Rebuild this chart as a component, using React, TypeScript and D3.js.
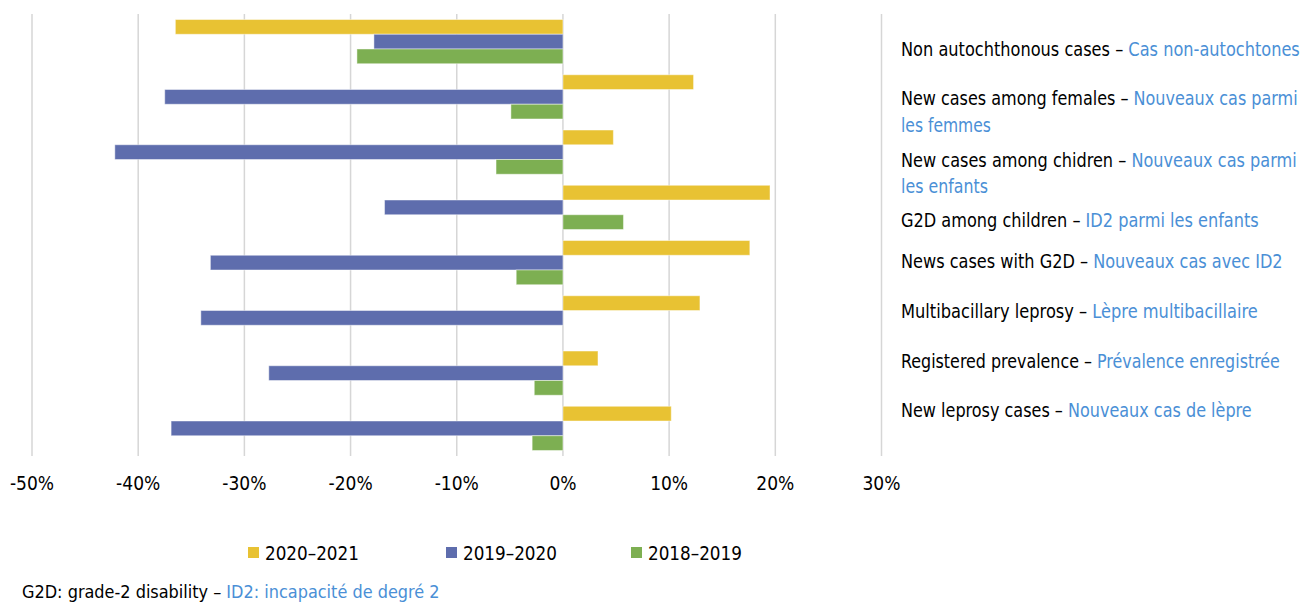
import React, { useLayoutEffect, useRef, useState } from "react";
import * as d3 from "d3";

const categories = [
  "Non autochthonous cases",
  "New cases among females",
  "New cases among chidren",
  "G2D among children",
  "News cases with G2D",
  "Multibacillary leprosy",
  "Registered prevalence",
  "New leprosy cases",
];

const seriesNames = ["2020–2021", "2019–2020", "2018–2019"];
const values2020_2021 = [-36.5, 12.3, 4.75, 19.5, 17.6, 12.9, 3.3, 10.2];
const values2019_2020 = [-17.8, -37.5, -42.2, -16.8, -33.2, -34.1, -27.7, -36.9];
const values2018_2019 = [-19.4, -4.9, -6.3, 5.7, -4.4, 0, -2.7, -2.9];
const xTicks = [-50, -40, -30, -20, -10, 0, 10, 20, 30];

// right-hand labels: English part, French part (lines)
const labelLines: { en: string; fr: string }[][] = [
  [{ en: "Non autochthonous cases – ", fr: "Cas non-autochtones" }],
  [{ en: "New cases among females – ", fr: "Nouveaux cas parmi" }, { en: "", fr: "les femmes" }],
  [{ en: "New cases among chidren – ", fr: "Nouveaux cas parmi" }, { en: "", fr: "les enfants" }],
  [{ en: "G2D among children – ", fr: "ID2 parmi les enfants" }],
  [{ en: "News cases with G2D – ", fr: "Nouveaux cas avec ID2" }],
  [{ en: "Multibacillary leprosy – ", fr: "Lèpre multibacillaire" }],
  [{ en: "Registered prevalence – ", fr: "Prévalence enregistrée" }],
  [{ en: "New leprosy cases – ", fr: "Nouveaux cas de lèpre" }],
];

const colors = ["#E8C233", "#5E6DAD", "#7DAF52"];
const frColor = "#4A8FD6";
const font = "'DejaVu Sans Condensed', 'DejaVu Sans', sans-serif";

function FitText(props: {
  x: number;
  y: number;
  width: number;
  fontSize: number;
  children: React.ReactNode;
}) {
  const ref = useRef<SVGTextElement>(null);
  const [s, setS] = useState(1);
  useLayoutEffect(() => {
    if (ref.current) {
      const len = ref.current.getComputedTextLength();
      if (len > 0) setS(props.width / len);
    }
  }, [props.width]);
  return (
    <g transform={`translate(${props.x},${props.y}) scale(${s},1)`}>
      <text ref={ref} x={0} y={0} fontSize={props.fontSize} fill="#000">
        {props.children}
      </text>
    </g>
  );
}

export default function App() {
  const W = 1303;
  const H = 603;
  const x = d3.scaleLinear().domain([-50, 30]).range([32, 881.5]);
  const y = d3.scaleBand<string>().domain(categories).range([14, 456]);
  const bw = y.bandwidth();
  const sub = d3.scaleBand<string>().domain(seriesNames).range([bw * 0.1, bw * 0.9]);
  const allSeries = [values2020_2021, values2019_2020, values2018_2019];

  // layout of right-hand category text (baselines and rendered widths)
  const labelBaselines = [[56], [105, 131.7], [166.7, 192.7], [226.7], [268.3], [318.3], [367.7], [416.7]];
  const labelWidths = [[399], [397, 90], [396, 87], [358], [382], [357], [379], [351]];

  const legendX = [248, 446, 631];

  return (
    <svg width={W} height={H} style={{ display: "block", position: "absolute", left: 0, top: 0 }} fontFamily={font}>
      <rect width={W} height={H} fill="#fff" />
      {xTicks.map((t) => (
        <line key={t} x1={x(t)} x2={x(t)} y1={14} y2={456} stroke="#D6D6D6" strokeWidth={1.5} />
      ))}
      {allSeries.map((vals, si) =>
        vals.map((v, ci) => {
          if (v === 0) return null;
          const x0 = x(Math.min(0, v));
          const x1 = x(Math.max(0, v));
          return (
            <rect
              key={`${si}-${ci}`}
              x={x0}
              y={(y(categories[ci]) as number) + (sub(seriesNames[si]) as number)}
              width={x1 - x0}
              height={sub.bandwidth()}
              fill={colors[si]}
              stroke="#ffffff"
              strokeOpacity={0.45}
              strokeWidth={1}
            />
          );
        })
      )}
      {xTicks.map((t) => (
        <text key={t} x={x(t)} y={490} textAnchor="middle" fontSize={19} fill="#000">
          {`${t}%`}
        </text>
      ))}
      {labelLines.map((lines, ci) =>
        lines.map((ln, li) => (
          <FitText key={`${ci}-${li}`} x={901} y={labelBaselines[ci][li]} width={labelWidths[ci][li]} fontSize={19.5}>
            {ln.en && <tspan>{ln.en}</tspan>}
            <tspan fill={frColor}>{ln.fr}</tspan>
          </FitText>
        ))
      )}
      {seriesNames.map((s, i) => (
        <g key={s}>
          <rect x={legendX[i]} y={547} width={11} height={11} fill={colors[i]} />
          <FitText x={legendX[i] + 17} y={560} width={94} fontSize={19}>
            {s}
          </FitText>
        </g>
      ))}
      <FitText x={22} y={598} width={418} fontSize={18}>
        <tspan>G2D: grade-2 disability – </tspan>
        <tspan fill={frColor}>ID2: incapacité de degré 2</tspan>
      </FitText>
    </svg>
  );
}
